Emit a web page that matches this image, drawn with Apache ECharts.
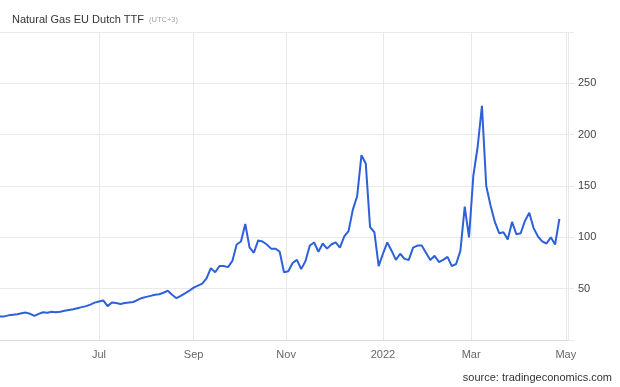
<!DOCTYPE html>
<html>
<head>
<meta charset="utf-8">
<script src="https://cdn.jsdelivr.net/npm/echarts@6/dist/echarts.min.js"></script>
<style>
html,body{margin:0;padding:0;background:#fff;}
#chart{width:620px;height:387px;}
</style>
</head>
<body>
<div id="chart"></div>
<script>
// Title / source texts
const titleText = 'Natural Gas EU Dutch TTF';
const titleNote = '(UTC+3)';
const sourceText = 'source: tradingeconomics.com';

// Trading-day axis: weekdays from 2021-04-28 to 2022-05-03
const startDate = '2021-04-28';
const dayCount = 265;

// Month labels shown on the x axis
const monthLabels = ['2022', 'Feb', 'Mar', 'Apr', 'May', 'Jun', 'Jul', 'Aug', 'Sep', 'Oct', 'Nov', 'Dec'];
const labelMonths = [6, 8, 10, 0, 2, 4];

// Price (EUR/MWh), read every second trading day
const prices = [
  22.8, 23, 24, 24.5, 25, 26, 26.7, 25.5, 23.5, 25.5,
  27, 26.5, 27.5, 27, 27.6, 28.5, 29.3, 30, 31, 32,
  33, 34.5, 36.4, 37.5, 38.5, 33, 36.5, 36, 35, 36,
  36.5, 37, 39, 41, 42, 43, 44, 44.6, 46, 48,
  44, 40.7, 43, 45.5, 48, 51, 53, 55, 60, 70,
  66, 72, 72, 71, 77, 93, 96, 113, 90, 85,
  97, 96, 93, 89, 89, 86, 66, 67, 75, 78,
  69, 77, 92, 95, 86, 94, 89, 93, 95, 90,
  101, 106, 127, 140, 180, 172, 110, 105, 72, 84,
  95, 87, 78, 84, 79, 78, 90, 92, 92, 85,
  78, 82, 76, 78, 81, 72, 74, 87, 130, 100,
  160, 188, 228, 150, 131, 115, 104, 105, 98, 115,
  103, 104, 116, 124, 109, 101, 96, 94, 100, 93,
  118
];

// y axis ticks
const yTicks = [50, 100, 150, 200, 250];

// Build the weekday category list
const categories = [];
(function () {
  const d = new Date(startDate + 'T00:00:00Z');
  while (categories.length < dayCount) {
    const wd = d.getUTCDay();
    if (wd !== 0 && wd !== 6) {
      categories.push(d.toISOString().slice(0, 10));
    }
    d.setUTCDate(d.getUTCDate() + 1);
  }
})();

function monthOf(s) { return parseInt(s.slice(5, 7), 10) - 1; }
function isMonthStart(index) {
  if (index < 10) return false;
  const m = monthOf(categories[index]);
  if (m === monthOf(categories[index - 1])) return false;
  return labelMonths.indexOf(m) >= 0;
}

const seriesData = prices.map((v, k) => [k * 2, v]);

const chart = echarts.init(document.getElementById('chart'), null, { renderer: 'canvas' });
const gridColor = '#e9e9e9';
chart.setOption({
  animation: false,
  backgroundColor: '#ffffff',
  textStyle: { fontFamily: 'Liberation Sans, Arial, sans-serif' },
  title: {
    left: 12, top: 11, padding: 0,
    text: '{a|' + titleText + '} {b|' + titleNote + '}',
    textStyle: {
      fontWeight: 'normal',
      rich: {
        a: { fontSize: 11, color: '#333333', fontFamily: 'Liberation Sans', fontWeight: 'normal' },
        b: { fontSize: 7.5, color: '#a0a0a0', fontFamily: 'Liberation Sans', fontWeight: 'normal' }
      }
    }
  },
  graphic: [{
    type: 'text', right: 8, top: 372,
    style: { text: sourceText, fill: '#333333', font: '11px "Liberation Sans", Arial, sans-serif' }
  }],
  grid: { left: 0, right: 52, top: 32, bottom: 47, containLabel: false },
  xAxis: {
    type: 'category',
    data: categories,
    boundaryGap: false,
    axisLine: { show: true, lineStyle: { color: '#dcdcdc', width: 1 } },
    axisTick: { show: false },
    axisLabel: {
      interval: (i) => isMonthStart(i),
      formatter: (v) => monthLabels[monthOf(v)],
      color: '#666666', fontSize: 11, margin: 9,
      fontFamily: 'Liberation Sans'
    },
    splitLine: { show: true, interval: (i) => isMonthStart(i), lineStyle: { color: gridColor, width: 1 } }
  },
  yAxis: {
    type: 'value',
    position: 'right',
    min: 0, max: 300, interval: 50,
    axisLine: { show: true, lineStyle: { color: gridColor } },
    axisTick: { show: true, length: 6, lineStyle: { color: gridColor } },
    axisLabel: {
      formatter: (v) => (yTicks.indexOf(v) >= 0 ? String(v) : ''),
      color: '#444444', fontSize: 11, margin: 10,
      fontFamily: 'Liberation Sans'
    },
    splitLine: { show: true, lineStyle: { color: gridColor, width: 1 } }
  },
  series: [{
    type: 'line',
    data: seriesData,
    showSymbol: false,
    symbol: 'none',
    lineStyle: { color: '#2e60da', width: 2 },
    itemStyle: { color: '#2e60da' }
  }]
});
</script>
</body>
</html>
